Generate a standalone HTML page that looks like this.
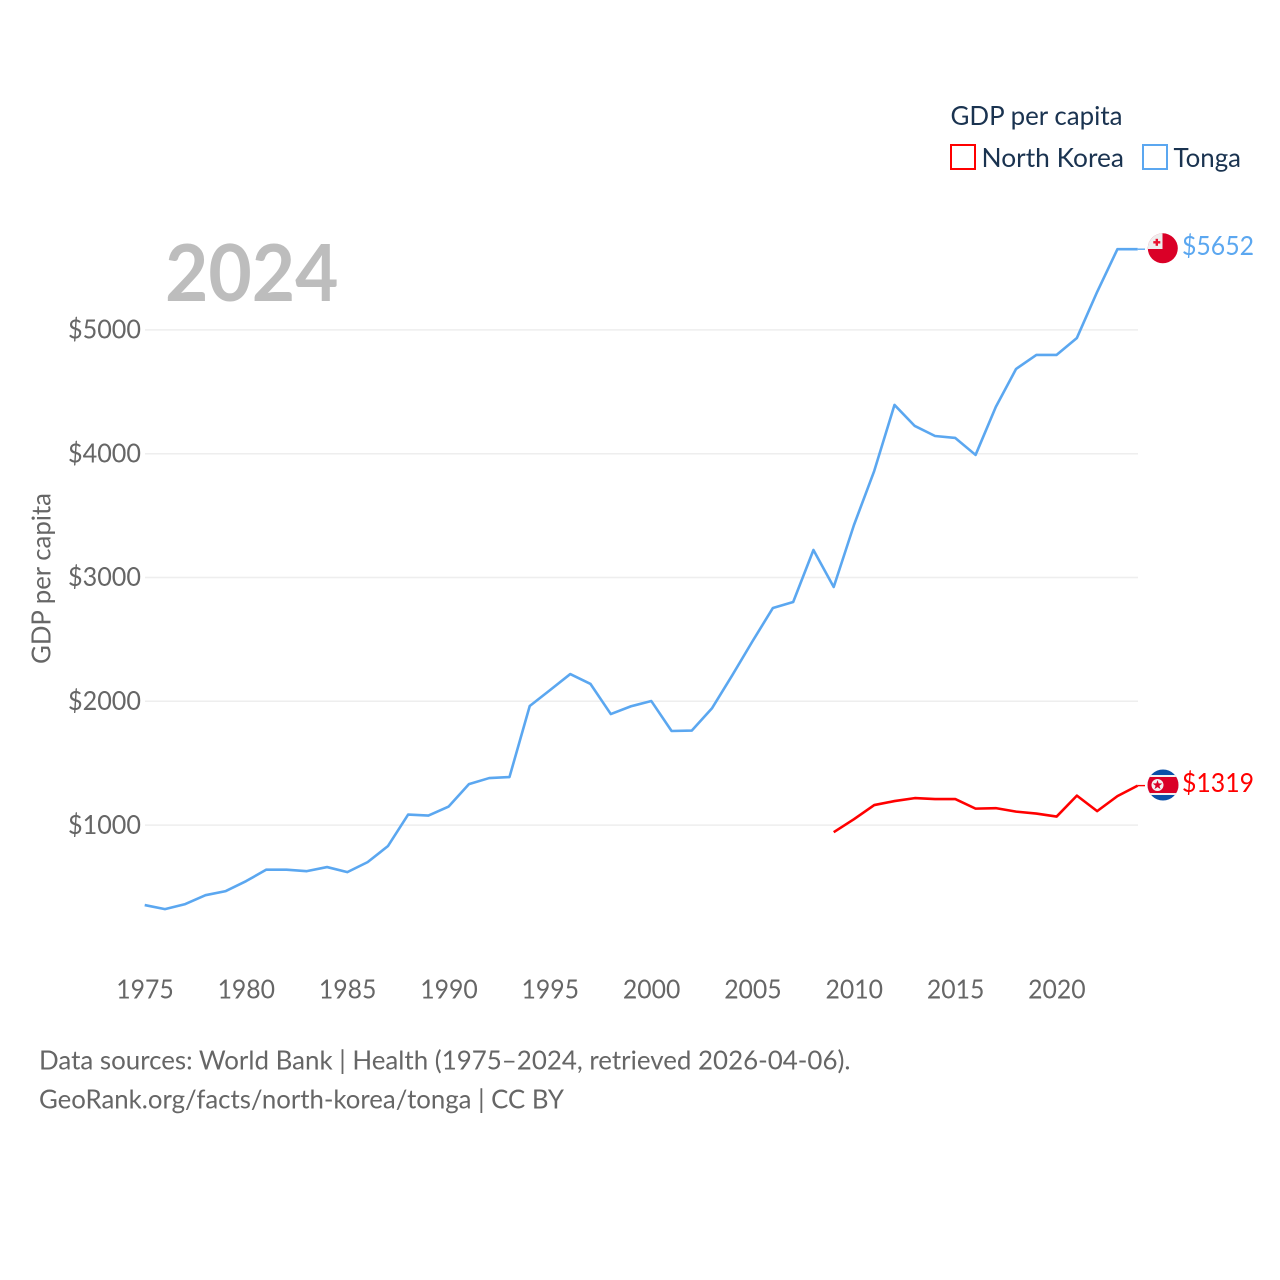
<!DOCTYPE html>
<html lang="en">
<head>
<meta charset="utf-8">
<title>GDP per capita: North Korea and Tonga</title>
<style>
html,body{margin:0;padding:0;background:#fff;}
svg{display:block;}
text{font-family:"Lato","Carlito","Liberation Sans",sans-serif;}
</style>
</head>
<body>
<svg id="chart" xmlns="http://www.w3.org/2000/svg" width="1280" height="1280" viewBox="0 0 1280 1280">
  <rect x="0" y="0" width="1280" height="1280" fill="#ffffff"/>
  <g id="grid"></g>
  <g id="yticks"></g>
  <g id="xticks"></g>
  <text transform="translate(50.5,578.5) rotate(-90)" text-anchor="middle" font-size="26.5" fill="#666666" textLength="171" lengthAdjust="spacingAndGlyphs">GDP per capita</text>
  <text x="165" y="301" font-size="79" font-weight="700" fill="#bdbdbd" textLength="173.5" lengthAdjust="spacingAndGlyphs">2024</text>
  <g id="series"></g>

  <g id="tonga-flag">
    <clipPath id="tonga-clip"><circle cx="1162.8" cy="248.3" r="15"/></clipPath>
    <g clip-path="url(#tonga-clip)">
      <rect x="1147" y="233" width="32" height="32" fill="#da0027"/>
      <rect x="1147" y="233" width="15.5" height="16" fill="#eeeeee"/>
      <rect x="1155.6" y="238.8" width="2.4" height="7" fill="#e8112d"/>
      <rect x="1153.3" y="241.1" width="7" height="2.4" fill="#e8112d"/>
    </g>
  </g>
  <g id="nk-flag">
    <clipPath id="nk-clip"><circle cx="1163" cy="785" r="15.5"/></clipPath>
    <g clip-path="url(#nk-clip)">
      <rect x="1147" y="769" width="32" height="32" fill="#0a4fa8"/>
      <rect x="1147" y="775" width="32" height="20" fill="#f2f2f2"/>
      <rect x="1147" y="777" width="32" height="16" fill="#da0027"/>
      <circle cx="1157.5" cy="785" r="6" fill="#f2f2f2"/>
      <polygon points="1157.5,780 1158.7,783.4 1162.3,783.5 1159.4,785.7 1160.5,789.1 1157.5,787.1 1154.5,789.1 1155.6,785.7 1152.7,783.5 1156.3,783.4" fill="#da0027"/>
    </g>
  </g>

  <text id="tonga-value" x="1182" y="254.8" font-size="26.5" fill="#5ba7f0" textLength="72" lengthAdjust="spacingAndGlyphs"></text>
  <text id="nk-value" x="1182" y="791.8" font-size="26.5" fill="#ff0000" textLength="72" lengthAdjust="spacingAndGlyphs"></text>

  <g>
    <text x="950.5" y="125" font-size="26.5" fill="#1a3350" textLength="172" lengthAdjust="spacingAndGlyphs">GDP per capita</text>
    <rect x="951" y="145" width="24" height="24" fill="#ffffff" stroke="#ff0000" stroke-width="2"/>
    <text x="981.5" y="167" font-size="26.5" fill="#1a3350" textLength="142.5" lengthAdjust="spacingAndGlyphs">North Korea</text>
    <rect x="1143" y="145" width="24" height="24" fill="#ffffff" stroke="#5ba7f0" stroke-width="2"/>
    <text x="1173.5" y="167" font-size="26.5" fill="#1a3350" textLength="67.5" lengthAdjust="spacingAndGlyphs">Tonga</text>
  </g>

  <g>
    <text x="39" y="1069.7" font-size="26.5" fill="#666666" textLength="811.5" lengthAdjust="spacingAndGlyphs">Data sources: World Bank | Health (1975–2024, retrieved 2026-04-06).</text>
    <text x="39" y="1108.7" font-size="26.5" fill="#666666" textLength="525" lengthAdjust="spacingAndGlyphs">GeoRank.org/facts/north-korea/tonga | CC BY</text>
  </g>
</svg>
<script>
const yTickValues = [1000, 2000, 3000, 4000, 5000];
const xTickYears = [1975, 1980, 1985, 1990, 1995, 2000, 2005, 2010, 2015, 2020];
const tongaStartYear = 1975;
const tongaValues = [354, 321, 362, 434, 467, 547, 640, 640, 628, 661, 620, 701, 830, 1085, 1077, 1150, 1331, 1380, 1388, 1962, 2090, 2220, 2140, 1897, 1960, 2002, 1760, 1764, 1945, 2212, 2487, 2754, 2802, 3222, 2923, 3424, 3861, 4394, 4224, 4143, 4127, 3990, 4378, 4685, 4798, 4798, 4935, 5307, 5652, 5652];
const northKoreaStartYear = 2009;
const northKoreaValues = [943, 1048, 1162, 1194, 1218, 1210, 1210, 1133, 1137, 1109, 1093, 1069, 1238, 1113, 1234, 1319];

const NS = 'http://www.w3.org/2000/svg';
function xScale(year) { return 144.7 + (year - 1975) * 20.265; }
function yScale(value) { return 825.1 - (value - 1000) * 0.1238; }
function make(tag, attrs, parent) {
  const el = document.createElementNS(NS, tag);
  for (const k in attrs) el.setAttribute(k, attrs[k]);
  parent.appendChild(el);
  return el;
}
const gridG = document.getElementById('grid');
const yG = document.getElementById('yticks');
const xG = document.getElementById('xticks');
const seriesG = document.getElementById('series');

yTickValues.forEach(function (v) {
  const line = make('line', {x1: 145, x2: 1138, y1: yScale(v), y2: yScale(v), stroke: '#eeeeee', 'stroke-width': 1.5}, gridG);
  
  
  const label = make('text', {x: 141, y: yScale(v) + 8.7, 'text-anchor': 'end', 'font-size': 26.5, fill: '#666666', textLength: 73, lengthAdjust: 'spacingAndGlyphs'}, yG);
  label.textContent = '$' + v;
  
  
});

xTickYears.forEach(function (yr) {
  const label = make('text', {x: xScale(yr) + 0.3, y: 998.4, 'text-anchor': 'middle', 'font-size': 26.5, fill: '#666666', textLength: 57.5, lengthAdjust: 'spacingAndGlyphs'}, xG);
  label.textContent = String(yr);
  
  
});

function drawSeries(values, startYear, color) {
  const pts = values.map(function (v, i) { return xScale(startYear + i).toFixed(2) + ',' + yScale(v).toFixed(2); });
  return make('polyline', {points: pts.join(' '), fill: 'none', stroke: color, 'stroke-width': 2.6, 'stroke-linejoin': 'round'}, seriesG);
}
function drawConnector(values, color) {
  const y = yScale(values[values.length - 1]);
  return make('line', {x1: xScale(2024), x2: 1145, y1: y, y2: y, stroke: color, 'stroke-width': 1.4}, seriesG);
}

const tongaLine = drawSeries(tongaValues, tongaStartYear, '#5ba7f0');


const nkLine = drawSeries(northKoreaValues, northKoreaStartYear, '#ff0000');


const tongaConn = drawConnector(tongaValues, '#5ba7f0');


const nkConn = drawConnector(northKoreaValues, '#ff0000');



document.getElementById('tonga-value').textContent = '$' + tongaValues[tongaValues.length - 1];
document.getElementById('nk-value').textContent = '$' + northKoreaValues[northKoreaValues.length - 1];
</script>
</body>
</html>
